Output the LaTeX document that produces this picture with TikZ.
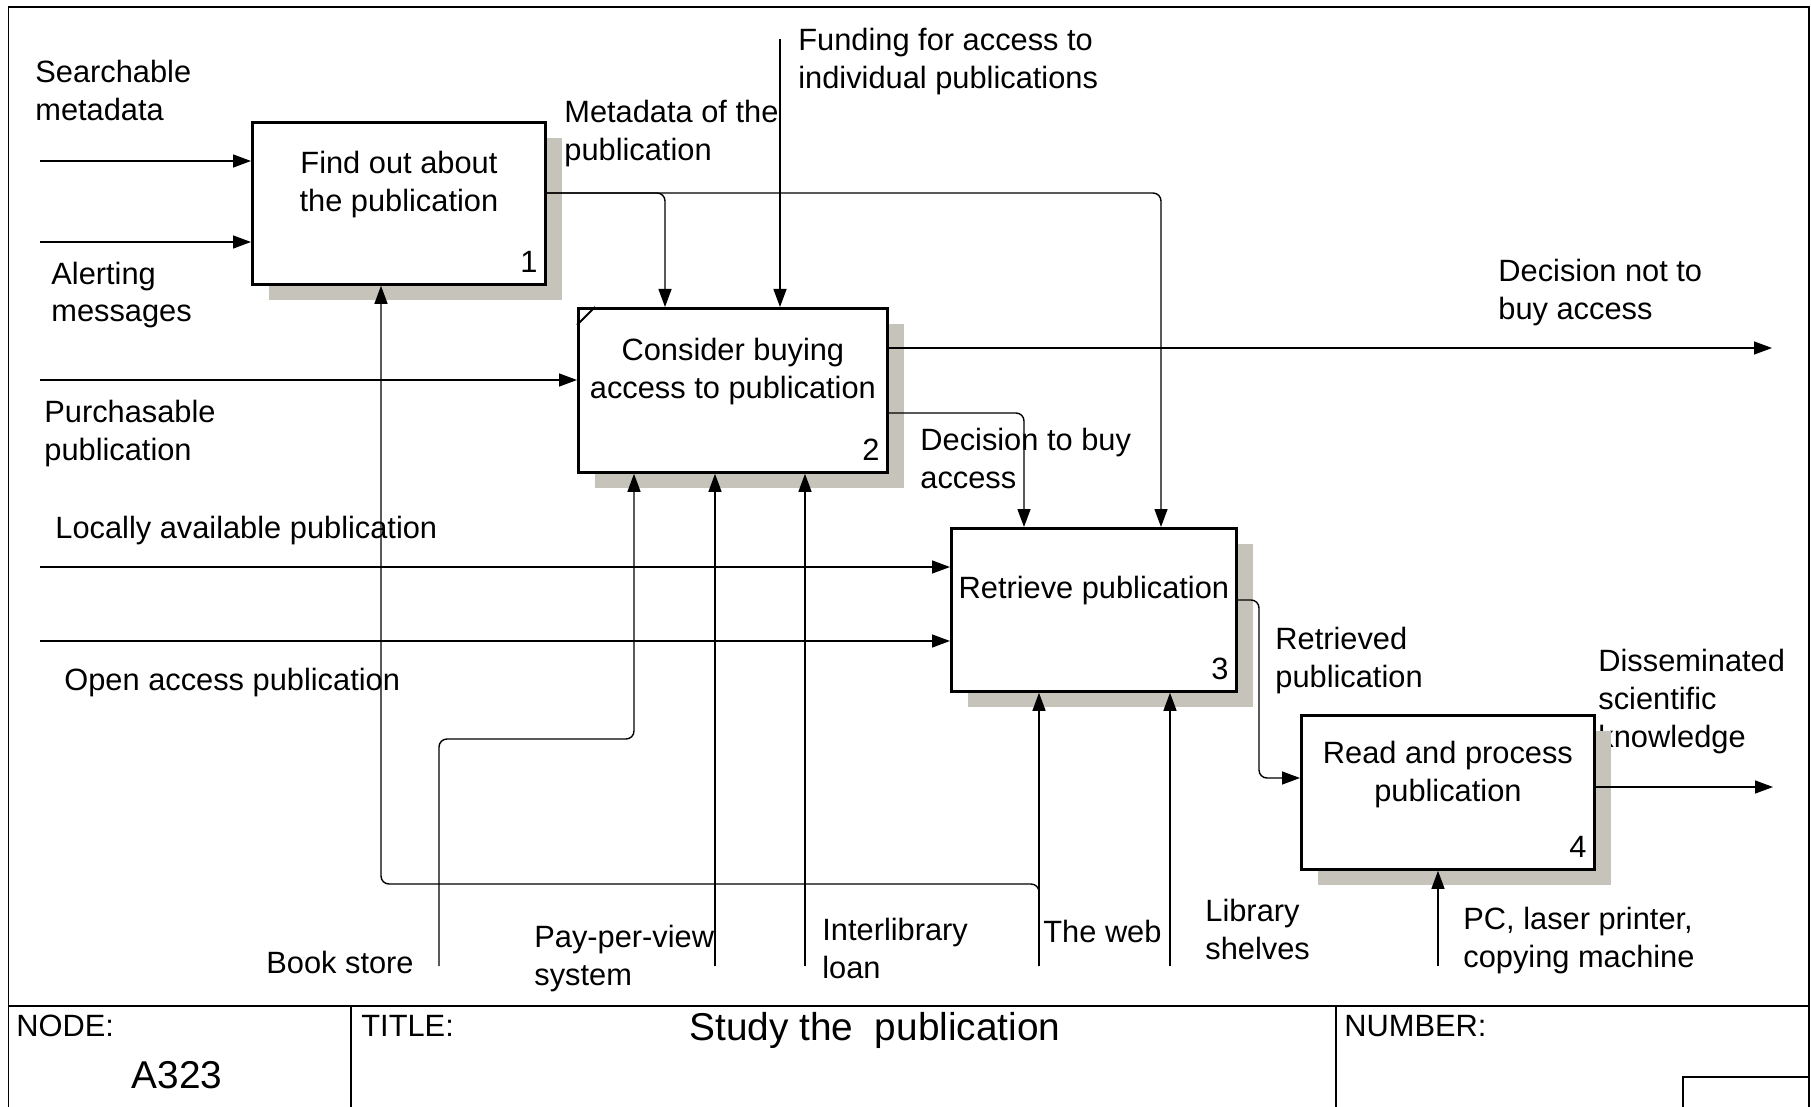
\documentclass[tikz,border=0pt]{standalone}
\usepackage{fontspec}
\setmainfont{Liberation Sans}
\usetikzlibrary{calc,shadows,positioning,arrows.meta}

\definecolor{shadowgray}{RGB}{198,195,187}

\tikzset{
  func/.style={draw,line width=1.4pt,fill=white,rectangle,inner sep=0pt,anchor=north west,
    drop shadow={shadow xshift=8.5pt,shadow yshift=-8pt,opacity=1,fill=shadowgray}},
  functext/.style={align=center,inner sep=0pt},
  funcnum/.style={inner sep=0pt},
  flow/.style={line width=0.7pt,rounded corners=4pt,-{Triangle[length=9pt,width=6.5pt]}},
  flowlabel/.style={align=left,inner sep=0pt,anchor=base west},
  frame/.style={line width=0.9pt},
  big/.style={font=\fontsize{19.4}{23}\selectfont,inner sep=0pt,anchor=base}
}

\begin{document}
\begin{tikzpicture}[x=0.5pt,y=-0.5pt,font=\fontsize{15.4}{19}\selectfont]
  \useasboundingbox (0,0) rectangle (1811,1107);

  % frame and title block
  \draw[frame] (8.5,1107) -- (8.5,7) -- (1809,7) -- (1809,1107);
  \draw[frame] (8.5,1006) -- (1809,1006);
  \draw[frame] (351,1006) -- (351,1107);
  \draw[frame] (1336,1006) -- (1336,1107);
  \draw[frame] (1683,1107) -- (1683,1077) -- (1809,1077);

  \node[flowlabel] (node label) at (16,1036) {NODE:};
  \node[big] (node number) at (177,1088) {A323};
  \node[flowlabel] (title label) at (361,1036) {TITLE:};
  \node[big] (title) at (875,1040) {Study the\ \ publication};
  \node[flowlabel] (number label) at (1344,1036) {NUMBER:};

  % arrow labels (base = last line)
  \node[flowlabel] (searchable) at (35,121) {Searchable\\metadata};
  \node[flowlabel] (alerting) at (51,322) {Alerting\\messages};
  \node[flowlabel] (purchasable) at (44,460) {Purchasable\\publication};
  \node[flowlabel] (locally) at (55,538) {Locally available publication};
  \node[flowlabel] (open access) at (64,690) {Open access publication};
  \node[flowlabel] (metadata) at (564,161) {Metadata of the\\publication};
  \node[flowlabel] (funding) at (798,89) {Funding for access to\\individual publications};
  \node[flowlabel] (not buy) at (1498,320) {Decision not to\\buy access};
  \node[flowlabel] (buy) at (920,488) {Decision to buy\\access};
  \node[flowlabel] (retrieved) at (1275,687) {Retrieved\\publication};
  \node[flowlabel] (disseminated) at (1598,747) {Disseminated\\scientific\\knowledge};
  \node[flowlabel] (book store) at (266,973) {Book store};
  \node[flowlabel] (pay per view) at (534,985) {Pay-per-view\\system};
  \node[flowlabel] (interlibrary) at (822,978) {Interlibrary\\loan};
  \node[flowlabel] (web) at (1043,942) {The web};
  \node[flowlabel] (shelves) at (1205,959) {Library\\shelves};
  \node[flowlabel] (pc) at (1463,967) {PC, laser printer,\\copying machine};

  % activities
  \node[func,minimum width=146.5pt,minimum height=81pt] (box 1) at (251,121) {};
  \node[func,minimum width=154.5pt,minimum height=82pt] (box 2) at (577,307) {};
  \node[func,minimum width=142.5pt,minimum height=81.5pt] (box 3) at (950,527) {};
  \node[func,minimum width=146.5pt,minimum height=77pt] (box 4) at (1300,714) {};
  \draw[line width=0.9pt] ($(box 2.north west)+(0,18)$) -- ($(box 2.north west)+(18,0)$);

  \node[functext,below=14.75pt of box 1.north] (text 1) {Find out about\\the publication};
  \node[functext,below=15.25pt of box 2.north] (text 2) {Consider buying\\access to publication};
  \node[functext,below=24.25pt of box 3.north] (text 3) {Retrieve publication};
  \node[functext,below=13.25pt of box 4.north] (text 4) {Read and process\\publication};

  \node[funcnum,above left=6.5pt and 4.5pt of box 1.south east] (num 1) {1};
  \node[funcnum,above left=6.5pt and 4.5pt of box 2.south east] (num 2) {2};
  \node[funcnum,above left=6.5pt and 4.5pt of box 3.south east] (num 3) {3};
  \node[funcnum,above left=6.5pt and 4.5pt of box 4.south east] (num 4) {4};

  % free ends and bends
  \coordinate (in 1) at (40,161);
  \coordinate (in 2) at (40,242);
  \coordinate (in 3) at (40,380);
  \coordinate (in 4) at (40,567);
  \coordinate (in 5) at (40,641);
  \coordinate (fund) at (780,39);
  \coordinate (fork 1) at (665,193);
  \coordinate (fork 2) at (1161,193);
  \coordinate (out not buy) at (1772,348);
  \coordinate (fork buy) at (1024,413);
  \coordinate (fork ret) at (1259,600);
  \coordinate (bend ret) at (1259,778);
  \coordinate (out diss) at (1773,787);
  \coordinate (mech book) at (439,966);
  \coordinate (bend book) at (634,739);
  \coordinate (mech pay) at (715,966);
  \coordinate (mech inter) at (805,966);
  \coordinate (mech web) at (1039,966);
  \coordinate (bend web) at (381,884);
  \coordinate (mech shelves) at (1170,966);
  \coordinate (mech pc) at (1438,966);

  % connectors
  \draw[flow] (in 1) -- (in 1 -| box 1.west);
  \draw[flow] (in 2) -- (in 2 -| box 1.west);
  \draw[flow] (in 3) -- (in 3 -| box 2.west);
  \draw[flow] (in 4) -- (in 4 -| box 3.west);
  \draw[flow] (in 5) -- (in 5 -| box 3.west);
  \draw[flow] (fund) -- (fund |- box 2.north);
  \draw[flow] (box 1.east |- fork 1) -| (fork 1 |- box 2.north);
  \draw[flow] (box 1.east |- fork 2) -| (fork 2 |- box 3.north);
  \draw[flow] (box 2.east |- out not buy) -- (out not buy);
  \draw[flow] (box 2.east |- fork buy) -| (fork buy |- box 3.north);
  \draw[flow] (box 3.east |- fork ret) -| (bend ret) -- (bend ret -| box 4.west);
  \draw[flow] (box 4.east |- out diss) -- (out diss);
  \draw[flow] (mech book) |- (bend book) -- (bend book |- box 2.south);
  \draw[flow] (mech pay) -- (mech pay |- box 2.south);
  \draw[flow] (mech inter) -- (mech inter |- box 2.south);
  \draw[flow] (mech web) -- (mech web |- box 3.south);
  \draw[flow] (mech web) |- (bend web) -- (bend web |- box 1.south);
  \draw[flow] (mech shelves) -- (mech shelves |- box 3.south);
  \draw[flow] (mech pc) -- (mech pc |- box 4.south);
\end{tikzpicture}
\end{document}
